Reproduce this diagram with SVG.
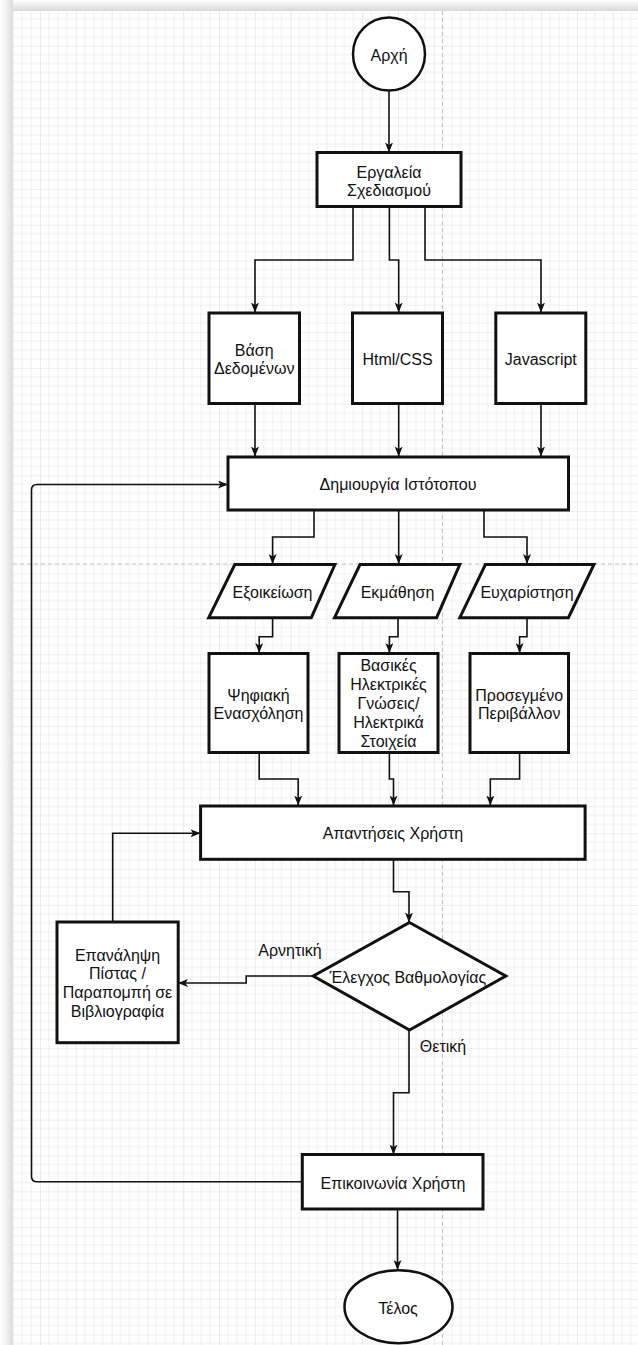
<svg xmlns="http://www.w3.org/2000/svg" width="638" height="1345" viewBox="0 0 638 1345">
  <defs>
    <pattern id="grid" x="40" y="45.7" width="35.8" height="35.8" patternUnits="userSpaceOnUse">
      <path d="M8.95 0V35.8M17.9 0V35.8M26.85 0V35.8M0 8.95H35.8M0 17.9H35.8M0 26.85H35.8" stroke="#efefef" stroke-width="1" fill="none"/>
      <path d="M0 0V35.8M0 0H35.8" stroke="#dedede" stroke-width="1.2" fill="none"/>
    </pattern>
    <linearGradient id="shadeTop" x1="0" y1="0" x2="0" y2="1">
      <stop offset="0" stop-color="#ffffff"/>
      <stop offset="1" stop-color="#d9d9d9"/>
    </linearGradient>
    <linearGradient id="shadeLeft" x1="0" y1="0" x2="1" y2="0">
      <stop offset="0" stop-color="#ffffff"/>
      <stop offset="0.45" stop-color="#f4f4f4"/>
      <stop offset="1" stop-color="#dcdcdc"/>
    </linearGradient>
    <marker id="arrow" viewBox="0 0 10 8" refX="9.5" refY="4" markerWidth="10" markerHeight="8" markerUnits="userSpaceOnUse" orient="auto">
      <path d="M0 0L10 4L0 8L2.5 4Z" fill="#111"/>
    </marker>
    <style>
      .shape { fill: #ffffff; stroke: #111; stroke-width: 3; }
      .term { fill: #ffffff; stroke: #111; stroke-width: 2.5; }
      .edge { fill: none; stroke: #111; stroke-width: 1.6; marker-end: url(#arrow); }
      text { font-family: "Liberation Sans", Arial, sans-serif; font-size: 16px; fill: #111; text-anchor: middle; }
    </style>
  </defs>

  <!-- page background with drawing grid -->
  <rect x="0" y="0" width="638" height="1345" fill="#ffffff"/>
  <rect x="0" y="0" width="638" height="11" fill="url(#shadeTop)"/>
  <rect x="0" y="0" width="13" height="1345" fill="url(#shadeLeft)"/>
  <rect x="13" y="11" width="625" height="1334" fill="#ffffff"/>
  <rect x="13" y="11" width="625" height="1334" fill="url(#grid)"/>
  <line x1="442.5" y1="11" x2="442.5" y2="1345" stroke="#c4c4c4" stroke-width="1" stroke-dasharray="4 3"/>
  <line x1="13" y1="564" x2="638" y2="564" stroke="#c4c4c4" stroke-width="1" stroke-dasharray="4 3"/>

  <!-- connectors -->
  <g id="connectors">
    <path class="edge" d="M389 90V152"/>
    <path class="edge" d="M353 207V260H255V312"/>
    <path class="edge" d="M389.4 207V260H398.7V312"/>
    <path class="edge" d="M425 207V260H541V312"/>
    <path class="edge" d="M255 403V456"/>
    <path class="edge" d="M398.7 403V456"/>
    <path class="edge" d="M541 403V456"/>
    <path class="edge" d="M314 510V537H272.6V563.5"/>
    <path class="edge" d="M398.7 510V563.5"/>
    <path class="edge" d="M484 510V537H527V563.5"/>
    <path class="edge" d="M272.6 618V636.7H259.2V652.5"/>
    <path class="edge" d="M398 618V636.7H389.4V652.5"/>
    <path class="edge" d="M527 618V636.7H519.6V652.5"/>
    <path class="edge" d="M259.2 752.5V779H298.2V805"/>
    <path class="edge" d="M389.4 752.5V779H393.5V805"/>
    <path class="edge" d="M519.6 752.5V779H490.3V805"/>
    <path class="edge" d="M393.5 859.5V891.7H409V922"/>
    <path class="edge" d="M313.3 976H246.2V983H178.5"/>
    <path class="edge" d="M112.7 921.5V833.3H200"/>
    <path class="edge" d="M409 1030V1092.7H393.5V1154"/>
    <path class="edge" d="M302.3 1181.7H37Q31.5 1181.7 31.5 1176.2V490Q31.5 484.5 37 484.5H227.5"/>
    <path class="edge" d="M397.5 1209V1269.5"/>
    <text x="290" y="955.5">Αρνητική</text>
    <text x="443" y="1052">Θετική</text>
  </g>

  <!-- nodes -->
  <g id="start">
    <ellipse class="term" cx="389" cy="54" rx="36" ry="36.5"/>
    <text x="389" y="61">Αρχή</text>
  </g>
  <g id="tools">
    <rect class="shape" x="317" y="152.5" width="144" height="54"/>
    <text x="389" y="178">Εργαλεία</text>
    <text x="389" y="196">Σχεδιασμού</text>
  </g>
  <g id="database">
    <rect class="shape" x="209" y="313" width="90.5" height="90.5"/>
    <text x="254.2" y="355.5">Βάση</text>
    <text x="254.2" y="373.5">Δεδομένων</text>
  </g>
  <g id="htmlcss">
    <rect class="shape" x="352.5" y="313" width="90" height="90.5"/>
    <text x="397.5" y="364.5">Html/CSS</text>
  </g>
  <g id="javascript">
    <rect class="shape" x="495.8" y="313" width="90" height="90.5"/>
    <text x="540.8" y="364.5">Javascript</text>
  </g>
  <g id="website">
    <rect class="shape" x="228" y="457" width="340.5" height="53"/>
    <text x="398" y="490">Δημιουργία Ιστότοπου</text>
  </g>
  <g id="familiarity">
    <path class="shape" d="M234.8 564.5H334.9L311.3 617.7H208.7Z"/>
    <text x="272.5" y="598">Εξοικείωση</text>
  </g>
  <g id="learning">
    <path class="shape" d="M360 564.5H459.8L436.6 617.7H334.5Z"/>
    <text x="397.5" y="598">Εκμάθηση</text>
  </g>
  <g id="enjoyment">
    <path class="shape" d="M485.4 564.5H594L568.4 617.7H459.8Z"/>
    <text x="527" y="598">Ευχαρίστηση</text>
  </g>
  <g id="digital">
    <rect class="shape" x="209" y="653.5" width="99" height="99"/>
    <text x="258.5" y="700.5">Ψηφιακή</text>
    <text x="258.5" y="719">Ενασχόληση</text>
  </g>
  <g id="electrical">
    <rect class="shape" x="339" y="653.5" width="99" height="99"/>
    <text x="388.5" y="671">Βασικές</text>
    <text x="388.5" y="690">Ηλεκτρικές</text>
    <text x="388.5" y="709">Γνώσεις/</text>
    <text x="388.5" y="728">Ηλεκτρικά</text>
    <text x="388.5" y="746.5">Στοιχεία</text>
  </g>
  <g id="environment">
    <rect class="shape" x="470" y="653.5" width="98.5" height="99"/>
    <text x="519.2" y="700.5">Προσεγμένο</text>
    <text x="519.2" y="719">Περιβάλλον</text>
  </g>
  <g id="answers">
    <rect class="shape" x="200.6" y="806" width="384.5" height="53.3"/>
    <text x="393" y="839">Απαντήσεις Χρήστη</text>
  </g>
  <g id="repeat">
    <rect class="shape" x="57" y="922" width="121.2" height="120.7"/>
    <text x="117.5" y="960.5">Επανάληψη</text>
    <text x="117.5" y="979">Πίστας /</text>
    <text x="117.5" y="998">Παραπομπή σε</text>
    <text x="117.5" y="1017">Βιβλιογραφία</text>
  </g>
  <g id="score-check">
    <path class="shape" d="M409.5 922.5L505.8 976L409.5 1030L313.3 976Z"/>
    <text x="408" y="983">Έλεγχος Βαθμολογίας</text>
  </g>
  <g id="contact">
    <rect class="shape" x="302.3" y="1154.5" width="180.7" height="54.5"/>
    <text x="393" y="1189">Επικοινωνία Χρήστη</text>
  </g>
  <g id="end">
    <ellipse class="term" cx="398.5" cy="1306.7" rx="54" ry="36.5"/>
    <text x="398" y="1314">Τέλος</text>
  </g>
</svg>
